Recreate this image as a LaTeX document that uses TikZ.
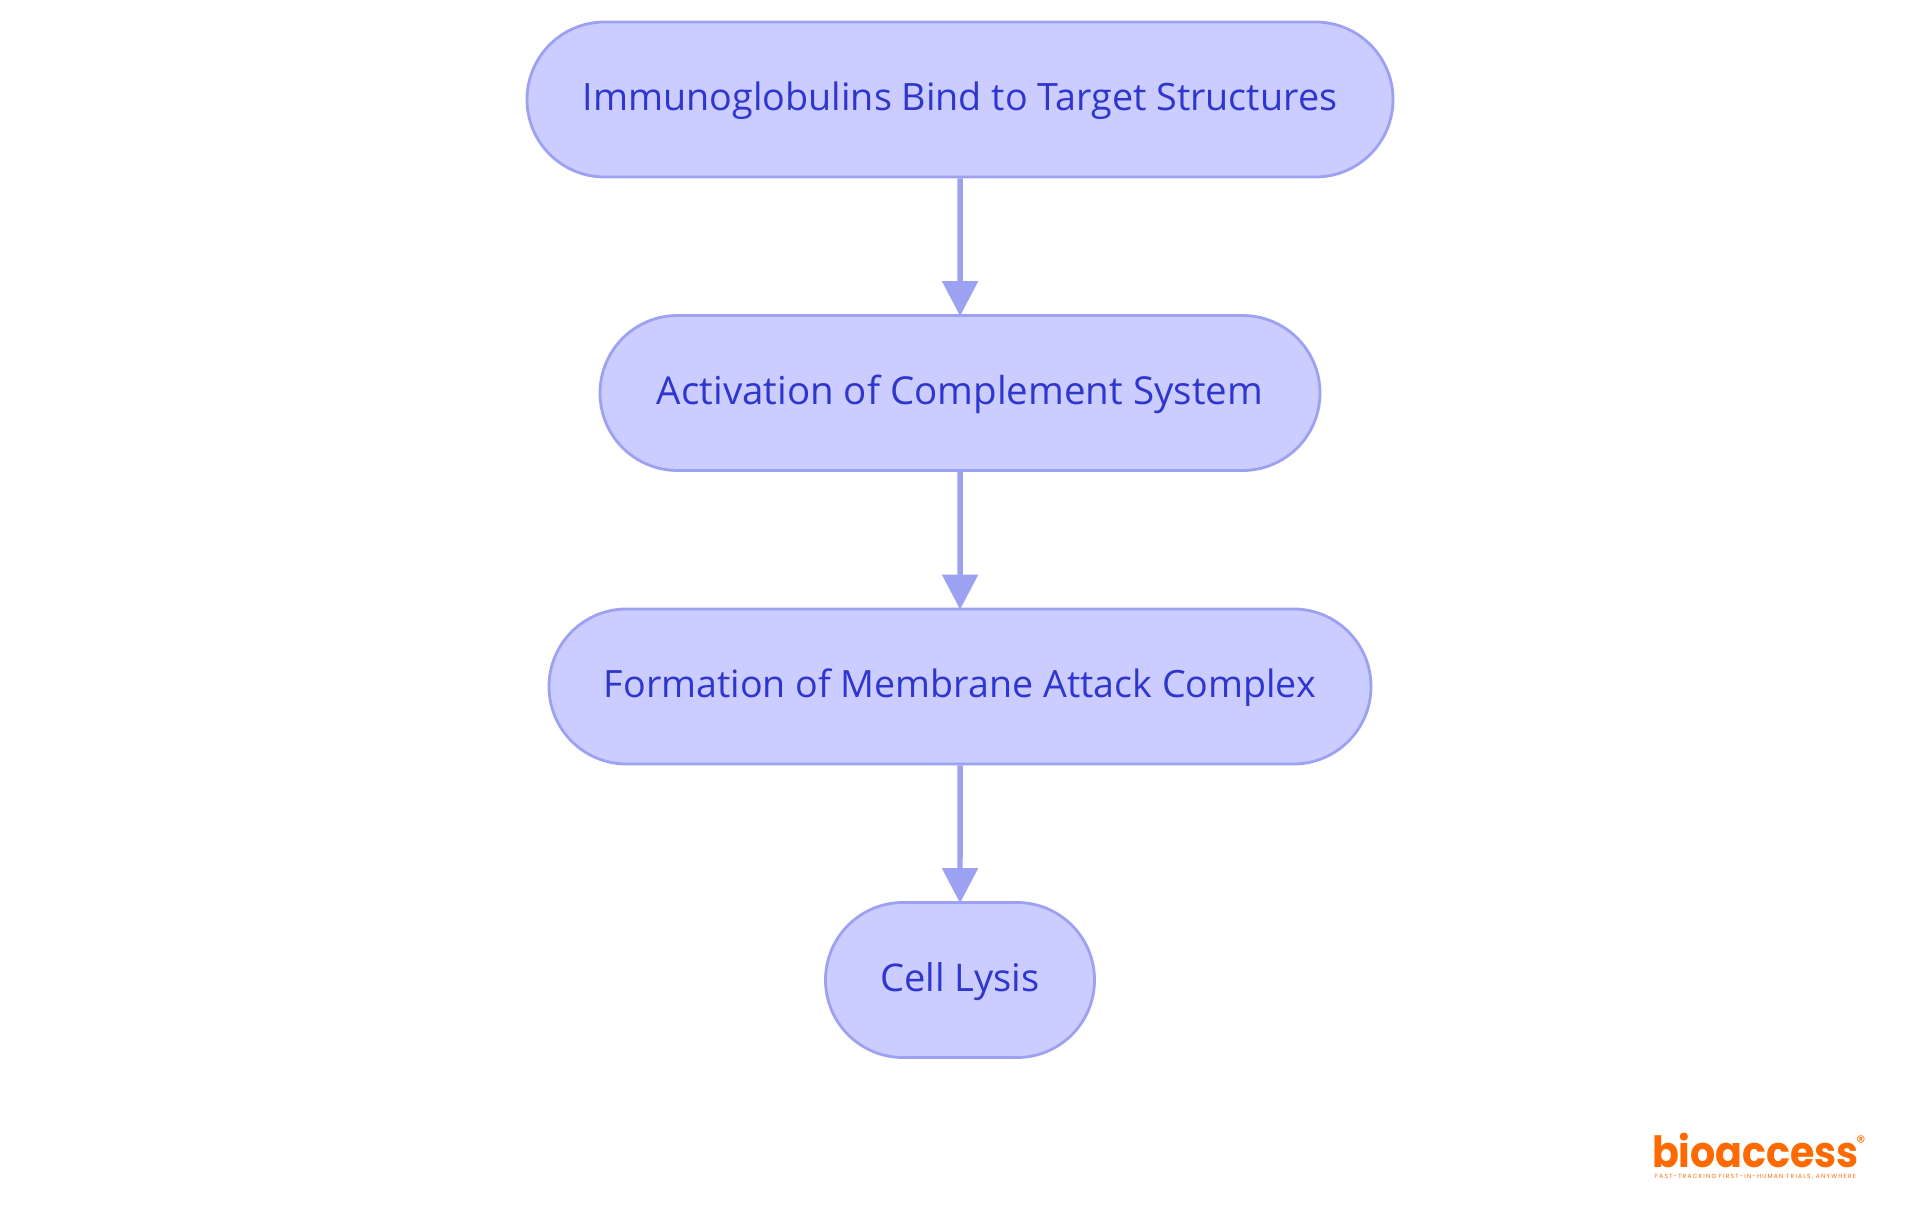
\documentclass[tikz,border=0pt]{standalone}
\usepackage{fontspec}
\setmainfont{Open Sans}
\newfontfamily\logofont{Poppins}
\newfontfamily\tagfont[LetterSpace=20]{Poppins}
\usetikzlibrary{arrows.meta,shapes.misc}
\definecolor{boxfill}{HTML}{CBCCFF}
\definecolor{boxline}{HTML}{9DA1F1}
\definecolor{boxtext}{HTML}{2F36CE}
\definecolor{logoorange}{HTML}{FF6A00}
\newcommand{\labelat}[2]{\fontsize{#1}{44}\selectfont #2}
\tikzset{
  pill/.style={rounded rectangle,draw=boxline,fill=boxfill,line width=2.8pt,text=boxtext,
    minimum height=155pt,inner sep=0pt,text height=30pt,text depth=7.6pt},
  link/.style={draw=boxline,line width=5.4pt,-{Triangle[length=35pt,width=35pt]},shorten >=-2pt}
}
\begin{document}
\begin{tikzpicture}[x=1pt,y=-1pt]
\useasboundingbox (0,0) rectangle (1920,1215);
\fill[white] (0,0) rectangle (1920,1215);
\node[pill,minimum width=866pt] (a) at (960,99.5) {\labelat{37.7}{Immunoglobulins Bind to Target Structures}};
\node[pill,minimum width=720pt] (b) at (960,393) {\labelat{38.5}{Activation of Complement System}};
\node[pill,minimum width=822pt] (c) at (960,686.5) {\labelat{37.6}{Formation of Membrane Attack Complex}};
\node[pill,minimum width=269pt] (d) at (960,980) {\labelat{38.1}{Cell Lysis}};
\draw[link] (a) -- (b);
\draw[link] (b) -- (c);
\draw[link] (c) -- (d);
\node[text=logoorange,font=\logofont\bfseries\fontsize{43}{46}\selectfont,inner sep=0pt] (logo) at (1755.5,1150) {\scalebox{0.92}[1]{bioaccess}};
\node[text=logoorange,font=\logofont\fontsize{18}{18}\selectfont,inner sep=0pt] (reg) at (1861,1142) {®};
\node[text=logoorange,font=\tagfont\fontsize{6}{6}\selectfont,inner sep=0pt] (tag) at (1755.5,1177) {FAST-TRACKING FIRST-IN-HUMAN TRIALS, ANYWHERE};
\end{tikzpicture}
\end{document}
